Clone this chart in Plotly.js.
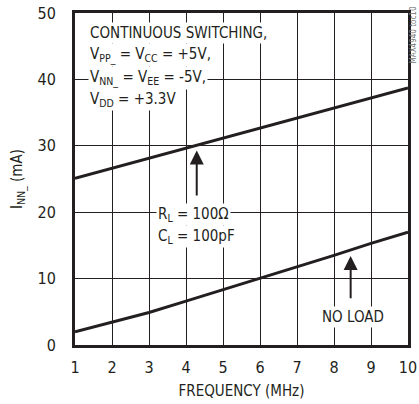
<!DOCTYPE html>
<html>
<head>
<meta charset="utf-8">
<script src="https://cdn.plot.ly/plotly-3.0.1.min.js"></script>
<style>html,body{margin:0;padding:0;background:#fff;}#chart{width:419px;height:404px;}</style>
</head>
<body>
<div id="chart"></div>
<script>
const freq = [1, 2, 3, 4, 5, 6, 7, 8, 9, 10];
const inn_load = [25.1, 26.6, 28.1, 29.6, 31.1, 32.6, 34.1, 35.6, 37.1, 38.7];
const inn_noload = [2.0, 3.4, 4.9, 6.6, 8.3, 10.0, 11.8, 13.5, 15.3, 17.0];
const xTicks = [1, 2, 3, 4, 5, 6, 7, 8, 9, 10];
const yTicks = [0, 10, 20, 30, 40, 50];

const FONT = "'DejaVu Sans Condensed', 'Liberation Sans Narrow', sans-serif";
const TXT = '#231f20';

const data = [
  {x: freq, y: inn_load, mode: 'lines', line: {color: '#231f20', width: 3}, hoverinfo: 'none'},
  {x: freq, y: inn_noload, mode: 'lines', line: {color: '#231f20', width: 3}, hoverinfo: 'none'}
];

function txt(x, y, text, anchor) {
  return {x: x, y: y, xref: 'x', yref: 'y', text: text, showarrow: false,
    xanchor: anchor || 'left', yanchor: 'middle', bgcolor: '#ffffff', borderpad: 1,
    font: {family: FONT, size: 15, color: TXT}};
}

const annotations = [
  txt(1.35, 47.0, 'CONTINUOUS SWITCHING,'),
  txt(1.35, 43.7, 'V<sub>PP_</sub> = V<sub>CC</sub> = +5V,'),
  txt(1.35, 40.2, 'V<sub>NN_</sub> = V<sub>EE</sub> = -5V,'),
  txt(1.35, 36.9, 'V<sub>DD</sub> = +3.3V'),
  txt(3.2, 19.7, 'R<sub>L</sub> = 100Ω'),
  txt(3.2, 16.4, 'C<sub>L</sub> = 100pF'),
  txt(8.5, 4.2, 'NO LOAD', 'center'),
  {x: 4.29, y: 29.3, ax: 4.29, ay: 22.3, xref: 'x', yref: 'y', axref: 'x', ayref: 'y',
   showarrow: true, arrowhead: 2, arrowsize: 1.4, arrowwidth: 2, arrowcolor: TXT, text: ''},
  {x: 8.45, y: 13.4, ax: 8.45, ay: 6.8, xref: 'x', yref: 'y', axref: 'x', ayref: 'y',
   showarrow: true, arrowhead: 2, arrowsize: 1.4, arrowwidth: 2, arrowcolor: TXT, text: ''},
  {x: 1.0, y: 1.0, xref: 'paper', yref: 'paper', xshift: 5, yshift: 8, text: 'MAX4940 toc10',
   showarrow: false, textangle: -90, xanchor: 'center', yanchor: 'top',
   font: {family: FONT, size: 8, color: '#777'}}
];

const layout = {
  width: 419, height: 404,
  margin: {l: 75, r: 11, t: 13, b: 59},
  paper_bgcolor: '#ffffff', plot_bgcolor: '#ffffff',
  showlegend: false,
  font: {family: FONT, size: 15, color: TXT},
  xaxis: {
    range: [1, 10], tickvals: xTicks, ticktext: xTicks.map(String),
    showgrid: true, gridcolor: '#231f20', gridwidth: 1,
    showline: true, mirror: true, linecolor: '#231f20', linewidth: 3,
    ticks: '', zeroline: false, fixedrange: true, ticklabelstandoff: 6,
    tickfont: {family: FONT, size: 16, color: TXT},
    title: {text: 'FREQUENCY (MHz)', font: {family: FONT, size: 15, color: TXT}, standoff: 10}
  },
  yaxis: {
    range: [0, 50], tickvals: yTicks, ticktext: yTicks.map(String),
    showgrid: true, gridcolor: '#231f20', gridwidth: 1,
    showline: true, mirror: true, linecolor: '#231f20', linewidth: 3,
    ticks: '', zeroline: false, fixedrange: true, ticklabelstandoff: 13,
    tickfont: {family: FONT, size: 16, color: TXT},
    title: {text: 'I<sub>NN_</sub> (mA)', font: {family: FONT, size: 15, color: TXT}, standoff: 12}
  },
  annotations: annotations
};

Plotly.newPlot('chart', data, layout, {staticPlot: true, displayModeBar: false});
</script>
</body>
</html>
